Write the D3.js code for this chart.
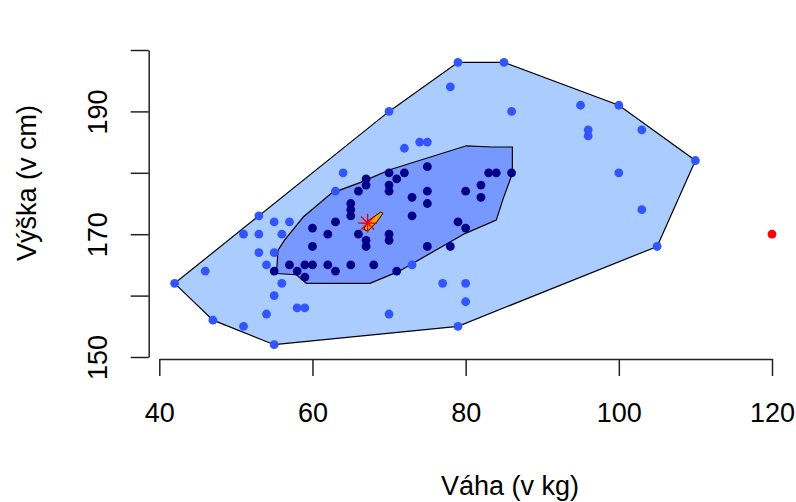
<!DOCTYPE html>
<html>
<head>
<meta charset="utf-8">
<script src="https://cdn.jsdelivr.net/npm/d3@7"></script>
<style>
  body { margin: 0; background: #fff; }
  svg text { font-family: "Liberation Sans", Arial, sans-serif; fill: #000; }
</style>
</head>
<body>
<svg id="chart" width="796" height="502"></svg>
<script>
// loop points (outside the bag, inside the fence)
const loopWeight = [42, 46, 47, 51, 51, 53, 53, 53, 54, 54, 55, 55, 55, 55, 56, 56, 57, 58, 59, 63, 64, 70, 70, 72, 73, 74, 75, 77, 78, 79, 79, 80, 80, 85, 86, 95, 96, 96, 100, 100, 103, 103, 105, 110];
const loopHeight = [162, 164, 156, 155, 170, 167, 170, 173, 157, 165, 160, 152, 167, 172, 162, 170, 172, 158, 158, 177, 180, 157, 190, 184, 165, 185, 185, 162, 194, 155, 198, 159, 162, 198, 190, 191, 186, 187, 180, 191, 174, 187, 168, 182];

// bag points
const bagWeight = [55, 57, 58, 59, 59, 60, 60, 60, 62, 62, 63, 63, 65, 65, 65, 65, 66, 66, 67, 67, 67, 67, 68, 70, 70, 70, 70, 70, 71, 71, 72, 73, 73, 75, 75, 75, 75, 78, 79, 80, 80, 82, 82, 83, 84, 86];
const bagHeight = [164, 165, 164, 165, 163, 165, 168, 171, 165, 170, 164, 172, 165, 173, 174, 175, 170, 177, 168, 169, 178, 179, 165, 169, 170, 177, 178, 180, 164, 179, 180, 173, 176, 168, 175, 177, 181, 168, 172, 171, 177, 176, 178, 180, 180, 180];

// outliers
const outWeight = [120];
const outHeight = [170];

// bag outline
const bagHullWeight = [80.1, 83.4, 86.1, 86.1, 84.9, 84.0, 79.9, 71.2, 67.5, 59.2, 57.9, 55.3, 55.5, 56.4, 58.8, 62.5, 66.2, 70.1];
const bagHullHeight = [184.4, 184.2, 184.2, 179.9, 175.8, 172.3, 170.1, 163.9, 162.0, 162.0, 163.4, 163.6, 167.4, 169.1, 172.8, 176.7, 178.4, 180.5];

// depth median region and center
const medWeight = [66.7, 67.2, 68.9, 69.2, 68.4, 67.2];
const medHeight = [170.8, 172.1, 173.6, 173.4, 172.0, 170.5];
const centerWeight = 67.2;
const centerHeight = 171.8;

const xTicks = [40, 60, 80, 100, 120];
const yTicks = [150, 160, 170, 180, 190, 200];
const yLabels = [150, 170, 190];

const svg = d3.select('#chart');
const x = d3.scaleLinear().domain([40, 120]).range([159.3, 772]);
const y = d3.scaleLinear().domain([150, 200]).range([357, 50]);

const loopPts = loopWeight.map((w, i) => [w, loopHeight[i]]);
const bagPts = bagWeight.map((w, i) => [w, bagHeight[i]]);
const hull = d3.polygonHull(loopPts.concat(bagPts));
const line = d3.line().x(d => x(d[0])).y(d => y(d[1])).curve(d3.curveLinearClosed);

// loop hull
svg.append('path')
  .attr('d', line(hull))
  .attr('fill', '#aaccff')
  .attr('stroke', '#000')
  .attr('stroke-width', 1.2);

// bag
svg.append('path')
  .attr('d', line(bagHullWeight.map((w, i) => [w, bagHullHeight[i]])))
  .attr('fill', '#7799ff')
  .attr('stroke', '#000')
  .attr('stroke-width', 1.2);

svg.append('g').selectAll('circle')
  .data(loopPts)
  .join('circle')
  .attr('cx', d => x(d[0]))
  .attr('cy', d => y(d[1]))
  .attr('r', 4.4)
  .attr('fill', '#3355ff');

svg.append('g').selectAll('circle')
  .data(bagPts)
  .join('circle')
  .attr('cx', d => x(d[0]))
  .attr('cy', d => y(d[1]))
  .attr('r', 4.4)
  .attr('fill', '#000088');

svg.append('g').selectAll('circle')
  .data(outWeight.map((w, i) => [w, outHeight[i]]))
  .join('circle')
  .attr('cx', d => x(d[0]))
  .attr('cy', d => y(d[1]))
  .attr('r', 4.4)
  .attr('fill', '#ff0000');

// median region + asterisk
svg.append('path')
  .attr('d', line(medWeight.map((w, i) => [w, medHeight[i]])))
  .attr('fill', '#ffa500')
  .attr('stroke', '#000')
  .attr('stroke-width', 1);

const cx = x(centerWeight), cy = y(centerHeight), s = 9.5;
const star = svg.append('g').attr('stroke', '#f40000').attr('stroke-width', 1.4);
[[-s, 0, s, 0], [0, -s, 0, s], [-s * 0.7, -s * 0.7, s * 0.7, s * 0.7], [-s * 0.7, s * 0.7, s * 0.7, -s * 0.7]].forEach(l => {
  star.append('line')
    .attr('x1', cx + l[0]).attr('y1', cy + l[1])
    .attr('x2', cx + l[2]).attr('y2', cy + l[3]);
});

// axes
const xAxis = svg.append('g')
  .attr('transform', 'translate(0,359)')
  .call(d3.axisBottom(x).tickValues(xTicks).tickSize(17).tickSizeOuter(0));
const yAxis = svg.append('g')
  .attr('transform', 'translate(148.7,0)')
  .call(d3.axisLeft(y).tickValues(yTicks).tickSize(18).tickSizeOuter(0)
    .tickFormat(d => yLabels.includes(d) ? d : ''));

[xAxis, yAxis].forEach(g => {
  g.selectAll('path, line').attr('stroke', '#222').attr('stroke-width', 1.5);
  g.selectAll('text').style('font-size', '27px').style('font-family', '"Liberation Sans", Arial, sans-serif');
});

xAxis.selectAll('text')
  .attr('y', 63)
  .attr('dy', 0);

yAxis.selectAll('text')
  .attr('x', 0)
  .attr('dy', 0)
  .attr('text-anchor', 'middle')
  .attr('transform', 'translate(-41.7,0) rotate(-90)');

svg.append('text')
  .attr('x', 510)
  .attr('y', 495)
  .attr('text-anchor', 'middle')
  .style('font-size', '27px')
  .text('Váha (v kg)');

svg.append('text')
  .attr('transform', 'translate(36,183) rotate(-90)')
  .attr('text-anchor', 'middle')
  .style('font-size', '27px')
  .text('Výška (v cm)');
</script>
</body>
</html>
